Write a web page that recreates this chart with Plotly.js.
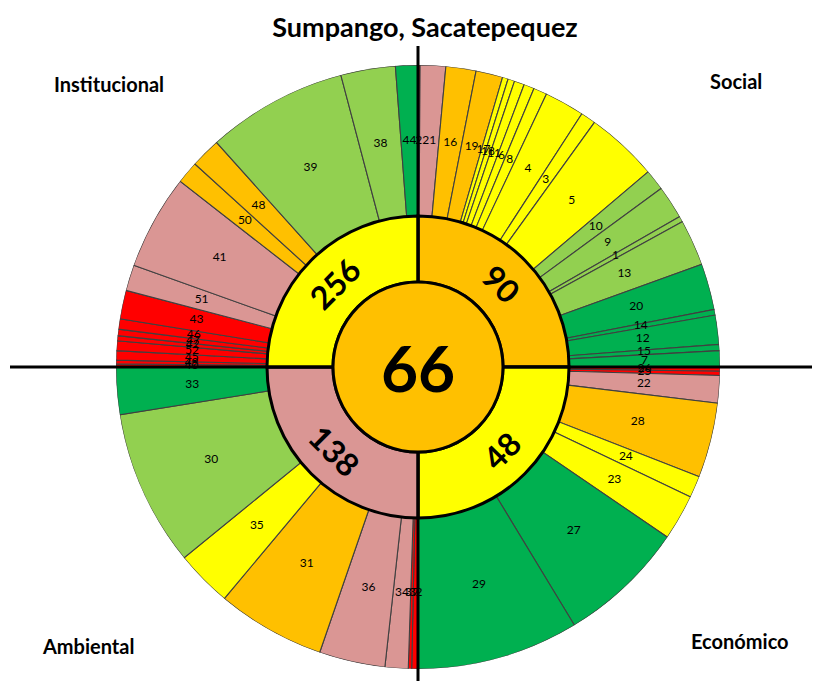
<!DOCTYPE html>
<html><head><meta charset="utf-8">
<script src="https://cdn.plot.ly/plotly-3.0.1.min.js"></script>
<style>html,body{margin:0;padding:0;background:#fff}#chart{width:819px;height:681px}</style>
</head><body><div id="chart"></div>
<script>
// ---------------- DATA ----------------
const chartTitle = 'Sumpango, Sacatepequez';
const centerValue = 66;
const centerLevel = 'naranja';

const dimensionNames  = ['Social', 'Económico', 'Ambiental', 'Institucional'];
const dimensionValues = [90, 48, 138, 256];
const dimensionLevels = ['naranja', 'amarillo', 'rosa', 'amarillo'];

// Indicators of each dimension, clockwise, with their angular share (degrees of the 90° quadrant)
const socialIds     = ['2','21','16','19','17','18','11','6','8','4','3','5','10','9','1','13','20','14','12','15','7'];
const socialShares  = [0.4,4.9,5.8,5.17,1.1,1.29,1.94,2.0,2.6,7.7,2.9,13.9,4.0,6.4,1.1,8.9,8.9,1.1,5.6,1.2,3.1];
const socialLevels  = ['rojo','rosa','naranja','naranja','amarillo','amarillo','amarillo','amarillo','amarillo','amarillo','amarillo','amarillo','verdeClaro','verdeClaro','verdeClaro','verdeClaro','verde','verde','verde','verde','verde'];

const economicoIds    = ['26','25','22','28','24','23','27','29'];
const economicoShares = [0.8,0.8,5.3,14.4,4.2,8.8,24.5,31.2];
const economicoLevels = ['rojo','rojo','rosa','naranja','amarillo','amarillo','verde','verde'];

const ambientalIds    = ['32','37','34','36','31','35','30','33'];
const ambientalShares = [1.2,0.65,4.45,12.7,20.9,10.9,30.1,9.1];
const ambientalLevels = ['rojo','rojo','rosa','rosa','naranja','amarillo','verdeClaro','verde'];

const institucionalIds    = ['40','49','45','52','42','47','46','43','51','41','50','48','39','38','44'];
const institucionalShares = [0.6,0.7,1.8,1.9,0.96,1.24,2.0,5.5,5.0,18.3,4.3,5.8,27.1,10.5,4.3];
const institucionalLevels = ['rojo','rojo','rojo','rojo','rojo','rojo','rojo','rojo','rosa','rosa','naranja','naranja','verdeClaro','verdeClaro','verde'];

// ---------------- STYLE ----------------
const palette = {
  rojo: '#FF0000', rosa: '#DA9694', naranja: '#FFC000',
  amarillo: '#FFFF00', verdeClaro: '#92D050', verde: '#00B050'
};
const W = 819, H = 681;
const CX = 418, CY = 367;          // centre in px
const R_OUT = 302, R_RING = 151, R_CENTER = 85;
const FONT = 'Lato, "Open Sans", sans-serif';

// ---------------- BUILD ----------------
const groups = [
  [socialIds, socialShares, socialLevels],
  [economicoIds, economicoShares, economicoLevels],
  [ambientalIds, ambientalShares, ambientalLevels],
  [institucionalIds, institucionalShares, institucionalLevels]
];
const oTheta = [], oWidth = [], oColor = [], oText = [];
groups.forEach((g, q) => {
  const [ids, shares, levels] = g;
  const total = shares.reduce((a, b) => a + b, 0);
  let acc = 0;
  ids.forEach((id, i) => {
    const w = shares[i] / total * 90;
    oTheta.push(q * 90 + acc + w / 2);
    oWidth.push(w);
    oColor.push(palette[levels[i]]);
    oText.push(id);
    acc += w;
  });
});

const outer = {
  type: 'barpolar', theta: oTheta, width: oWidth,
  r: oTheta.map(() => R_OUT - R_RING), base: R_RING,
  marker: { color: oColor, line: { color: '#404040', width: 1.1 } },
  hoverinfo: 'skip'
};
const outerText = {
  type: 'scatterpolar', mode: 'text', theta: oTheta,
  r: oTheta.map(() => (R_OUT + R_RING) / 2), text: oText,
  textfont: { family: FONT, size: 12, color: '#000' },
  cliponaxis: false, hoverinfo: 'skip'
};
const ringTheta = dimensionNames.map((_, i) => i * 90 + 45);
const ring = {
  type: 'barpolar', theta: ringTheta, width: dimensionNames.map(() => 90),
  r: dimensionNames.map(() => R_RING - R_CENTER), base: R_CENTER,
  marker: { color: dimensionLevels.map(l => palette[l]), line: { color: '#000', width: 3 } },
  hoverinfo: 'skip'
};
const center = {
  type: 'barpolar', theta: [0], width: [360], r: [R_CENTER], base: 0,
  marker: { color: palette[centerLevel], line: { color: '#000', width: 3 } },
  hoverinfo: 'skip'
};

const px = x => x / W, py = y => 1 - y / H;
const annotations = [];
const ringAngles = [45, -45, 45, -45];
dimensionValues.forEach((v, i) => {
  const a = ringTheta[i] * Math.PI / 180, rr = (R_RING + R_CENTER) / 2;
  annotations.push({
    x: px(CX + rr * Math.sin(a)), y: py(CY - rr * Math.cos(a)), xref: 'paper', yref: 'paper',
    text: '<b>' + v + '</b>', showarrow: false, textangle: ringAngles[i],
    font: { family: FONT, size: 32, color: '#000' }, xanchor: 'center', yanchor: 'middle'
  });
});
annotations.push({
  x: px(CX), y: py(CY), xref: 'paper', yref: 'paper', text: '<b>' + centerValue + '</b>',
  showarrow: false, font: { family: FONT, size: 64, color: '#000' }, xanchor: 'center', yanchor: 'middle'
});
const cornerPos = { Institucional: [109, 84], Social: [736, 81], Ambiental: [88, 646], 'Económico': [740, 641] };
dimensionNames.forEach(n => {
  annotations.push({
    x: px(cornerPos[n][0]), y: py(cornerPos[n][1]), xref: 'paper', yref: 'paper',
    text: '<b>' + n + '</b>', showarrow: false, font: { family: FONT, size: 20, color: '#000' },
    xanchor: 'center', yanchor: 'middle'
  });
});

const lineStyle = { color: '#000', width: 3 };
const shapes = [
  { type: 'line', xref: 'paper', yref: 'paper', x0: px(10), x1: px(CX - R_CENTER), y0: py(CY), y1: py(CY), line: lineStyle, layer: 'above' },
  { type: 'line', xref: 'paper', yref: 'paper', x0: px(CX + R_CENTER), x1: px(812), y0: py(CY), y1: py(CY), line: lineStyle, layer: 'above' },
  { type: 'line', xref: 'paper', yref: 'paper', x0: px(CX), x1: px(CX), y0: py(46), y1: py(CY - R_CENTER), line: lineStyle, layer: 'above' },
  { type: 'line', xref: 'paper', yref: 'paper', x0: px(CX), x1: px(CX), y0: py(CY + R_CENTER), y1: py(681), line: lineStyle, layer: 'above' }
];

const layout = {
  width: W, height: H, margin: { l: 0, r: 0, t: 0, b: 0 },
  paper_bgcolor: '#fff', showlegend: false,
  title: { text: '<b>' + chartTitle + '</b>', x: px(425), y: py(28), xanchor: 'center', yanchor: 'middle',
           font: { family: FONT, size: 27, color: '#000' } },
  polar: {
    domain: { x: [px(CX - R_OUT), px(CX + R_OUT)], y: [py(CY + R_OUT), py(CY - R_OUT)] },
    bgcolor: 'rgba(0,0,0,0)', hole: 0,
    radialaxis: { range: [0, R_OUT], visible: false, showgrid: false },
    angularaxis: { direction: 'clockwise', rotation: 90, visible: false, showgrid: false }
  },
  annotations: annotations, shapes: shapes
};
Plotly.newPlot('chart', [outer, ring, center, outerText], layout, { staticPlot: true });
</script></body></html>
